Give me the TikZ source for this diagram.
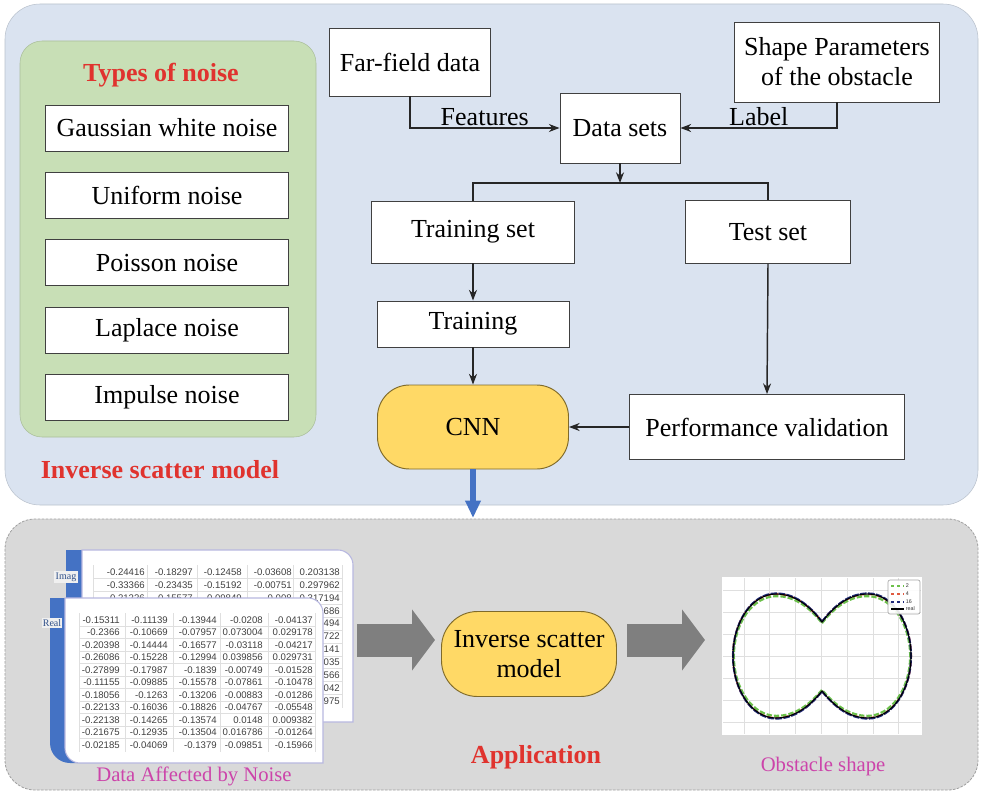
\documentclass[tikz,border=0pt]{standalone}
\usepackage{fontspec}
\setmainfont{Liberation Serif}
\newfontfamily\tablefont{Liberation Sans}
\usetikzlibrary{arrows.meta,positioning}
\newdimen\pxu \pxu=0.75pt
\definecolor{panelblue}{HTML}{DAE3F0}
\definecolor{panelgreen}{HTML}{C8DFB6}
\definecolor{panelgray}{HTML}{D9D9D9}
\definecolor{modelyellow}{HTML}{FFD966}
\definecolor{modeledge}{HTML}{7F6A2A}
\definecolor{titlered}{HTML}{E0332E}
\definecolor{captionpink}{HTML}{CC44AA}
\definecolor{barblue}{HTML}{4472C4}
\definecolor{arrowgray}{HTML}{7F7F7F}
\definecolor{numgray}{HTML}{404040}
\definecolor{curvenavy}{HTML}{1F2A7A}
\definecolor{curvegreen}{HTML}{6CC04A}
\definecolor{curvered}{HTML}{E05A40}
\tikzset{
        % panels
        panel_top/.style={fill=panelblue, draw=panelblue!85!black, line width=0.4pt, rounded corners=35\pxu},
        panel_noise/.style={fill=panelgreen, draw=panelgreen!85!black, line width=0.4pt, rounded corners=22\pxu},
        panel_app/.style={fill=panelgray, draw=gray!75, line width=0.6pt, dash pattern=on 2pt off 1pt, rounded corners=30\pxu},
        % boxes
        box_plain/.style={draw=black!75, fill=white, line width=0.7pt, align=center, inner sep=2pt,
                font=\fontsize{19.5}{22.5}\selectfont},
        box_noise/.style={box_plain, minimum width=243\pxu, minimum height=46\pxu},
        box_model/.style={box_plain, draw=modeledge, fill=modelyellow, rounded corners=32\pxu},
        % texts
        title_red/.style={text=titlered, font=\bfseries\fontsize{19.5}{22.5}\selectfont},
        caption_pink/.style={text=captionpink, font=\fontsize{15.5}{18}\selectfont},
        arrow_label/.style={font=\fontsize{19.5}{22.5}\selectfont, inner sep=1pt},
        num_cell/.style={anchor=east, inner sep=0pt, text=numgray, font=\tablefont\fontsize{7.2}{8}\selectfont},
        side_label/.style={fill=gray!12, inner sep=1pt, text=barblue!70!black, font=\fontsize{7.5}{8}\selectfont},
        % connectors
        flow_arrow/.style={-{Stealth[length=8pt,width=6pt]}, line width=1.1pt, draw=black!85},
        flow_line/.style={line width=1.1pt, draw=black!85},
        blue_arrow/.style={-{Triangle[length=13pt,width=11pt]}, line width=4pt, draw=barblue},
        block_arrow/.style={-{Triangle[length=17.25pt,width=45pt]}, line width=24.75pt, draw=arrowgray},
        % plot
        grid_line/.style={draw=gray!25, line width=0.5pt},
        obstacle/.pic={
                \draw[pic actions] (0,-34) .. controls (13,-51) and (28,-62) .. (46,-62)
                        .. controls (70,-62) and (89,-34) .. (89,0)
                        .. controls (89,34) and (70,62) .. (46,62)
                        .. controls (28,62) and (13,51) .. (0,35)
                        .. controls (-13,51) and (-28,62) .. (-46,62)
                        .. controls (-70,62) and (-89,34) .. (-89,0)
                        .. controls (-89,-34) and (-70,-62) .. (-46,-62)
                        .. controls (-28,-62) and (-13,-51) .. (0,-34) -- cycle;
        }
}
\begin{document}
\begin{tikzpicture}[x=0.75pt, y=-0.75pt]
\useasboundingbox (0,0) rectangle (984,795);

% panels
\draw[panel_top] (5,4) rectangle (978,505);
\draw[panel_noise] (20,41) rectangle (316,437);
\draw[panel_app] (5,519) rectangle (978,790);

% types of noise
\node[title_red] (noise_title) at (161,75) {Types of noise};
\node[box_noise] (gaussian) at (167,128) {Gaussian white noise};
\node[box_noise, below=20.5\pxu of gaussian] (uniform) {Uniform noise};
\node[box_noise, below=20.5\pxu of uniform] (poisson) {Poisson noise};
\node[box_noise, below=20.5\pxu of poisson] (laplace) {Laplace noise};
\node[box_noise, below=20.5\pxu of laplace] (impulse) {Impulse noise};
\node[title_red] (model_title) at (160,470) {Inverse scatter model};

% training flow
\node[box_plain, minimum width=161\pxu, minimum height=68\pxu] (farfield) at (410,62) {Far-field data};
\node[box_plain, minimum width=205\pxu, minimum height=80\pxu] (shape) at (837,62) {Shape Parameters\\of the obstacle};
\node[box_plain, minimum width=120\pxu, minimum height=70\pxu] (datasets) at (620,128) {Data sets};
\node[box_plain, minimum width=203\pxu, minimum height=62\pxu] (trainset) at (473,232) {Training set};
\node[box_plain, minimum width=165\pxu, minimum height=63\pxu] (testset) at (768,232) {Test set};
\node[box_plain, minimum width=192\pxu, minimum height=46\pxu] (training) at (473,324) {Training};
\node[box_model, minimum width=191\pxu, minimum height=84\pxu] (cnn) at (473,427) {CNN};
\node[box_plain, minimum width=275\pxu, minimum height=65\pxu] (perf) at (767,427) {Performance validation};
\coordinate (split) at (620,183);
\coordinate (app_top) at (473,518);

\draw[flow_arrow] (farfield.south) |- node[arrow_label, above, pos=0.75] {Features} (datasets.west);
\draw[flow_arrow] (shape.south) |- node[arrow_label, above, pos=0.75] {Label} (datasets.east);
\draw[flow_arrow] (datasets.south) -- (split);
\draw[flow_line] (trainset.north) |- (split) -| (testset.north);
\draw[flow_arrow] (trainset.south) -- (training.north);
\draw[flow_arrow] (training.south) -- (cnn.north);
\draw[flow_arrow] (testset.south) -- (perf.north);
\draw[flow_arrow] (perf.west) -- (cnn.east);
\draw[blue_arrow] (cnn.south) -- (app_top);

% noisy data tables, imaginary part behind
\fill[barblue] (66,550) rectangle (100,722);
\draw[fill=white, draw=gray!60!blue!40, line width=0.8pt] (82,722) -- (82,550) -- (338,550)
        arc[start angle=90, end angle=0, radius=15\pxu] -- (353,722) -- cycle;
\foreach \i in {0,...,9}
        \draw[grid_line] (93,{578.5+12.9*\i}) -- (342,{578.5+12.9*\i});
\foreach \gx in {93,147,197,247,293,342}
        \draw[grid_line] (\gx,565) -- (\gx,708);
\node[side_label] (imag_label) at (66,577) {Imag};
\foreach \ca/\cb/\cc/\cd/\ce [count=\r] in {
        -0.24416/-0.18297/-0.12458/-0.03608/0.203138,
        -0.33366/-0.23435/-0.15192/-0.00751/0.297962,
        -0.21226/-0.15577/-0.09849/-0.008/0.317194}
{
        \node[num_cell] (imag_\r_a) at (145,{572+12.9*(\r-1)}) {\ca};
        \node[num_cell] (imag_\r_b) at (193,{572+12.9*(\r-1)}) {\cb};
        \node[num_cell] (imag_\r_c) at (242,{572+12.9*(\r-1)}) {\cc};
        \node[num_cell] (imag_\r_d) at (292,{572+12.9*(\r-1)}) {\cd};
        \node[num_cell] (imag_\r_e) at (340,{572+12.9*(\r-1)}) {\ce};
}
\foreach \frag [count=\r from 4] in {686,494,722,141,035,566,042,975}
        \node[num_cell] (imag_\r_e) at (340,{572+12.9*(\r-1)}) {\frag};

% real part in front
\fill[barblue] (50,598) -- (100,598) -- (100,763) -- (70,763)
        arc[start angle=270, end angle=180, radius=20\pxu] -- cycle;
\draw[fill=white, draw=gray!60!blue!40, line width=0.8pt] (65,598) -- (308,598)
        arc[start angle=90, end angle=0, radius=15\pxu] -- (323,763) -- (80,763)
        arc[start angle=270, end angle=180, radius=15\pxu] -- cycle;
\foreach \i in {0,...,9}
        \draw[grid_line] (79,{626.25+12.5*\i}) -- (315,{626.25+12.5*\i});
\foreach \gx in {79,125,173,220,268,315}
        \draw[grid_line] (\gx,613) -- (\gx,752);
\node[side_label] (real_label) at (52,623) {Real};
\foreach \ca/\cb/\cc/\cd/\ce [count=\r] in {
        -0.15311/-0.11139/-0.13944/-0.0208/-0.04137,
        -0.2366/-0.10669/-0.07957/0.073004/0.029178,
        -0.20398/-0.14444/-0.16577/-0.03118/-0.04217,
        -0.26086/-0.15228/-0.12994/0.039856/0.029731,
        -0.27899/-0.17987/-0.1839/-0.00749/-0.01528,
        -0.11155/-0.09885/-0.15578/-0.07861/-0.10478,
        -0.18056/-0.1263/-0.13206/-0.00883/-0.01286,
        -0.22133/-0.16036/-0.18826/-0.04767/-0.05548,
        -0.22138/-0.14265/-0.13574/0.0148/0.009382,
        -0.21675/-0.12935/-0.13504/0.016786/-0.01264,
        -0.02185/-0.04069/-0.1379/-0.09851/-0.15966}
{
        \node[num_cell] (real_\r_a) at (120,{620+12.5*(\r-1)}) {\ca};
        \node[num_cell] (real_\r_b) at (168,{620+12.5*(\r-1)}) {\cb};
        \node[num_cell] (real_\r_c) at (217,{620+12.5*(\r-1)}) {\cc};
        \node[num_cell] (real_\r_d) at (263,{620+12.5*(\r-1)}) {\cd};
        \node[num_cell] (real_\r_e) at (313,{620+12.5*(\r-1)}) {\ce};
}
\node[caption_pink] (data_caption) at (194,776) {Data Affected by Noise};

% application
\node[box_model, minimum width=175\pxu, minimum height=85\pxu, rounded corners=36\pxu] (invmodel) at (529,654) {Inverse scatter\\model};
\coordinate (data_out) at (357,640);
\coordinate (model_in) at (435,640);
\coordinate (model_out) at (627,640);
\coordinate (shape_in) at (705,640);
\draw[block_arrow] (data_out) -- (model_in);
\draw[block_arrow] (model_out) -- (shape_in);
\node[title_red] (app_title) at (536,757) {Application};

% obstacle shape plot
\fill[white] (722,577) rectangle (922,735);
\foreach \i in {0,...,6}
        \draw[grid_line] ({744+25.8*\i},578) -- ({744+25.8*\i},734);
\foreach \i in {0,...,6}
        \draw[grid_line] (723,{590+22*\i}) -- (921,{590+22*\i});
\pic[draw=curvered, line width=1.6pt, dash pattern=on 4pt off 2pt] at (822,656) {obstacle};
\pic[draw=curvegreen, line width=1.6pt, dash pattern=on 4pt off 1.5pt, yscale=0.965, xscale=0.99] at (822,656) {obstacle};
\pic[draw=curvenavy, line width=1.5pt, dash pattern=on 5pt off 1pt, yscale=1.01] at (822,656) {obstacle};
\pic[draw=black, line width=0.8pt] at (822,656) {obstacle};
\draw[fill=white, fill opacity=0.9, draw=gray!70, line width=0.5pt, rounded corners=1.5pt] (888,580) rectangle (920,614);
\foreach \lc/\lt/\ly in {curvegreen/2/586, curvered/4/594, curvenavy/16/602}
{
        \draw[draw=\lc, line width=1pt, dash pattern=on 2.5pt off 2pt] (891,\ly) -- (904,\ly);
        \node[anchor=west, inner sep=0.5pt, text=black!80, font=\tablefont\fontsize{4}{4}\selectfont] (legend_\lt) at (905,\ly) {\lt};
}
\draw[black, line width=0.8pt] (891,609) -- (904,609);
\node[anchor=west, inner sep=0.5pt, text=black!80, font=\tablefont\fontsize{4}{4}\selectfont] (legend_real) at (905,609) {real};
\node[caption_pink] (shape_caption) at (823,767) {Obstacle shape};

\end{tikzpicture}
\end{document}
